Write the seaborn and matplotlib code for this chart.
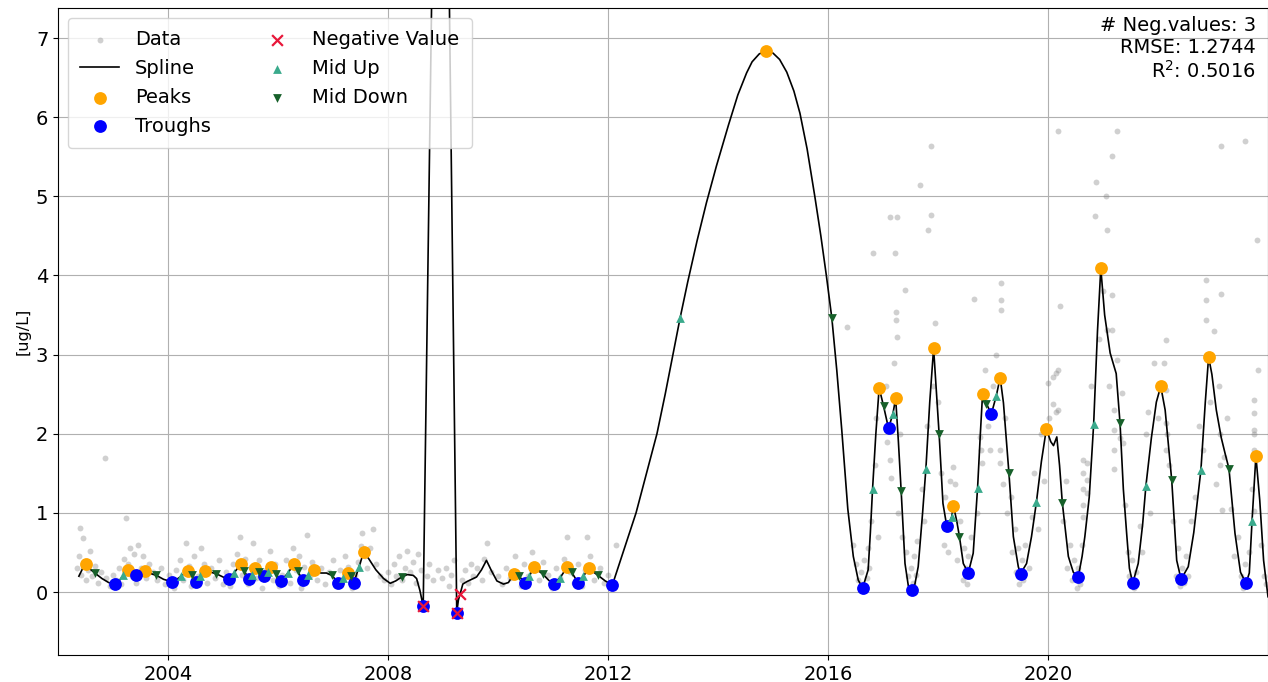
import matplotlib
matplotlib.use("Agg")
import matplotlib.pyplot as plt
import seaborn as sns
import numpy as np
import pandas as pd

# ---------------- data ----------------
# raw measurements (gray cloud)
data_x_early = [2002.35, 2002.38, 2002.40, 2002.42, 2002.45, 2002.48, 2002.50, 2002.55, 2002.58, 2002.62,
                2002.68, 2002.72, 2002.78, 2002.85, 2002.88, 2002.95, 2003.00, 2003.05, 2003.10, 2003.15,
                2003.20, 2003.24, 2003.28, 2003.30, 2003.35, 2003.38, 2003.42, 2003.45, 2003.50, 2003.55,
                2003.60, 2003.65, 2003.72, 2003.80, 2003.88, 2003.95, 2004.02, 2004.10, 2004.15, 2004.22,
                2004.28, 2004.32, 2004.38, 2004.42, 2004.48, 2004.55, 2004.60, 2004.65, 2004.70, 2004.78,
                2004.85, 2004.92, 2005.00, 2005.05, 2005.12, 2005.18, 2005.25, 2005.30, 2005.35, 2005.40,
                2005.45, 2005.50, 2005.55, 2005.60, 2005.65, 2005.70, 2005.78, 2005.85, 2005.90, 2005.95,
                2006.02, 2006.08, 2006.15, 2006.22, 2006.28, 2006.32, 2006.38, 2006.42, 2006.48, 2006.52,
                2006.58, 2006.62, 2006.70, 2006.78, 2006.85, 2006.92, 2007.00, 2007.05, 2007.12, 2007.18,
                2007.22, 2007.28, 2007.35, 2007.40, 2007.45, 2007.50, 2007.53, 2007.58, 2007.62, 2007.68,
                2007.73, 2007.78, 2007.85, 2007.92]
data_y_early = [0.30, 0.45, 0.81, 0.22, 0.68, 0.38, 0.15, 0.28, 0.52, 0.20,
                0.33, 0.12, 0.25, 1.69, 0.18, 0.08, 0.22, 0.15, 0.30, 0.10,
                0.42, 0.93, 0.35, 0.55, 0.20, 0.48, 0.12, 0.60, 0.30, 0.45,
                0.18, 0.35, 0.25, 0.15, 0.30, 0.10, 0.22, 0.05, 0.28, 0.40,
                0.15, 0.62, 0.33, 0.08, 0.45, 0.20, 0.55, 0.35, 0.12, 0.30,
                0.18, 0.40, 0.10, 0.25, 0.08, 0.35, 0.48, 0.70, 0.22, 0.42,
                0.10, 0.32, 0.62, 0.18, 0.40, 0.05, 0.28, 0.52, 0.15, 0.35,
                0.08, 0.22, 0.40, 0.12, 0.55, 0.28, 0.45, 0.05, 0.32, 0.72,
                0.20, 0.38, 0.15, 0.30, 0.10, 0.25, 0.40, 0.08, 0.28, 0.15,
                0.45, 0.32, 0.05, 0.22, 0.38, 0.58, 0.74, 0.45, 0.30, 0.55,
                0.80, 0.35, 0.20, 0.15]

data_x_mid = [2008.00, 2008.05, 2008.10, 2008.15, 2008.20, 2008.25, 2008.30, 2008.35, 2008.40, 2008.45,
              2008.50, 2008.55, 2008.60, 2008.70, 2008.75, 2008.82, 2008.90, 2008.98, 2009.05, 2009.10,
              2009.15, 2009.20, 2009.35, 2009.40, 2009.45, 2009.50, 2009.55, 2009.62, 2009.70, 2009.75,
              2009.80, 2009.88,
              2010.00, 2010.08, 2010.15, 2010.22, 2010.30, 2010.35, 2010.42, 2010.48, 2010.55, 2010.62,
              2010.68, 2010.75, 2010.82, 2010.90, 2010.98, 2011.05, 2011.12, 2011.20, 2011.26, 2011.30,
              2011.38, 2011.45, 2011.52, 2011.58, 2011.62, 2011.68, 2011.75, 2011.85, 2011.92, 2012.00,
              2012.10, 2012.15, 2016.34]
data_y_mid = [0.25, 0.10, 0.35, 0.20, 0.45, 0.15, 0.30, 0.52, 0.25, 0.38,
              0.12, 0.48, 0.28, 0.20, 0.35, 0.15, 0.28, 0.18, 0.30, 0.08,
              0.22, 0.40, 0.15, 0.28, 0.12, 0.35, 0.20, 0.30, 0.15, 0.42,
              0.62, 0.25,
              0.20, 0.10, 0.30, 0.18, 0.45, 0.25, 0.08, 0.35, 0.20, 0.50,
              0.28, 0.15, 0.38, 0.22, 0.05, 0.30, 0.18, 0.42, 0.70, 0.25,
              0.12, 0.35, 0.08, 0.28, 0.70, 0.45, 0.15, 0.30, 0.12, 0.22,
              0.05, 0.60, 3.35]

data_x_late = [2016.45, 2016.50, 2016.55, 2016.58, 2016.60, 2016.62, 2016.65, 2016.68, 2016.70, 2016.72,
               2016.75, 2016.78, 2016.82, 2016.85, 2016.88, 2016.90,
               2017.05, 2017.08, 2017.13, 2017.13, 2017.15, 2017.20, 2017.22, 2017.24, 2017.24, 2017.25,
               2017.25, 2017.27, 2017.30, 2017.35, 2017.40, 2017.42, 2017.45, 2017.48, 2017.50, 2017.55,
               2017.57, 2017.60,
               2017.62, 2017.67, 2017.70, 2017.75, 2017.80, 2017.82, 2017.87, 2017.88, 2017.90, 2017.95,
               2018.00, 2018.05, 2018.10, 2018.12,
               2018.18, 2018.22, 2018.28, 2018.31, 2018.35, 2018.40, 2018.45, 2018.48, 2018.50, 2018.52,
               2018.55, 2018.58, 2018.60, 2018.65, 2018.70,
               2018.76, 2018.78, 2018.80, 2018.85, 2018.90, 2018.95, 2019.00, 2019.05, 2019.13, 2019.13,
               2019.15, 2019.15, 2019.15, 2019.18, 2019.22, 2019.25, 2019.32, 2019.35, 2019.40, 2019.42,
               2019.45, 2019.48, 2019.52, 2019.55, 2019.58,
               2019.65, 2019.70, 2019.75, 2019.82, 2019.88, 2019.92, 2020.00, 2020.02, 2020.09, 2020.09,
               2020.15, 2020.15, 2020.19, 2020.19, 2020.19, 2020.22, 2020.28, 2020.32, 2020.35, 2020.40,
               2020.44, 2020.48, 2020.52, 2020.55, 2020.58,
               2020.62, 2020.64, 2020.64, 2020.64, 2020.64, 2020.64, 2020.70, 2020.70, 2020.70, 2020.78,
               2020.85, 2020.88, 2020.92, 2021.00, 2021.05, 2021.07, 2021.07, 2021.10, 2021.16, 2021.16,
               2021.16, 2021.20, 2021.20, 2021.20, 2021.20, 2021.25, 2021.25, 2021.30, 2021.34, 2021.36,
               2021.40, 2021.45, 2021.48, 2021.52, 2021.56, 2021.60,
               2021.67, 2021.70, 2021.79, 2021.82, 2021.85, 2021.92, 2022.00, 2022.10, 2022.15, 2022.15,
               2022.15, 2022.15, 2022.16, 2022.20, 2022.28, 2022.32, 2022.36, 2022.40, 2022.44, 2022.47,
               2022.50, 2022.55, 2022.60,
               2022.68, 2022.75, 2022.82, 2022.88, 2022.88, 2022.88, 2022.95, 2023.02, 2023.06, 2023.10,
               2023.13, 2023.13, 2023.15, 2023.15, 2023.17, 2023.20, 2023.25, 2023.33, 2023.38, 2023.45,
               2023.50, 2023.55, 2023.58, 2023.62, 2023.58,
               2023.66, 2023.70, 2023.74, 2023.74, 2023.74, 2023.74, 2023.74, 2023.75, 2023.80, 2023.82,
               2023.88, 2023.92, 2023.96]
data_y_late = [0.60, 0.35, 0.15, 0.05, 0.25, 0.10, 0.40, 0.02, 0.18, 0.55,
               0.30, 0.90, 4.28, 1.60, 2.20, 0.70,
               2.60, 1.90, 4.74, 1.67, 1.44, 2.90, 4.28, 3.54, 3.44, 3.22,
               4.74, 1.00, 2.00, 0.70, 3.82, 0.50, 0.20, 0.05, 0.30, 0.12,
               0.45, 0.22,
               0.65, 5.14, 1.30, 0.90, 2.10, 4.57, 4.76, 5.63, 2.60, 3.40,
               2.40, 1.50, 0.60, 1.20,
               0.50, 1.40, 1.58, 1.37, 0.40, 0.90, 0.15, 0.55, 0.30, 0.10,
               0.45, 0.20, 0.70, 3.70, 1.00,
               1.96, 1.80, 1.63, 2.80, 2.10, 1.80, 2.60, 3.00, 1.79, 1.63,
               3.90, 3.69, 3.57, 1.37, 2.20, 1.00, 1.20, 0.50, 0.80, 0.25,
               0.55, 0.10, 0.40, 0.15, 0.60,
               0.30, 0.95, 1.50, 0.80, 2.00, 1.40, 2.64, 2.20, 2.72, 2.38,
               2.77, 2.27, 5.82, 2.80, 2.30, 3.61, 0.90, 1.40, 0.30, 0.60,
               0.15, 0.40, 0.05, 0.30, 0.10,
               0.60, 1.67, 1.50, 1.30, 1.10, 0.95, 1.63, 1.42, 1.25, 2.60,
               4.75, 5.18, 3.20, 3.80, 5.00, 4.57, 3.31, 2.60, 5.51, 3.75,
               3.31, 2.30, 2.05, 1.80, 1.55, 5.82, 2.93, 1.95, 2.51, 1.88,
               1.10, 0.50, 0.20, 0.40, 0.05, 0.25,
               0.83, 0.50, 2.00, 2.27, 1.00, 2.90, 2.20, 2.90, 3.18, 2.55,
               2.13, 1.79, 2.00, 1.60, 0.90, 0.20, 0.55, 0.08, 0.30, 0.12,
               0.45, 0.20, 0.90,
               1.20, 2.10, 1.80, 3.94, 3.69, 3.44, 2.40, 3.30, 1.37, 2.60,
               2.00, 1.60, 5.63, 3.77, 1.04, 1.71, 2.20, 1.05, 0.45, 0.70,
               0.20, 0.05, 0.35, 0.15, 5.70,
               0.50, 1.30, 2.43, 2.26, 2.05, 2.00, 1.79, 1.03, 4.45, 2.80,
               0.60, 0.20, 0.10]

# fitted spline
spline_x = [2002.38, 2002.45, 2002.51, 2002.60, 2002.67, 2002.80, 2002.92, 2003.03, 2003.12, 2003.19,
            2003.28, 2003.35, 2003.42, 2003.50, 2003.59, 2003.70, 2003.79, 2003.92, 2004.07, 2004.18,
            2004.24, 2004.36, 2004.44, 2004.50, 2004.58, 2004.68, 2004.78, 2004.88, 2005.00, 2005.10,
            2005.20, 2005.32, 2005.38, 2005.47, 2005.53, 2005.59, 2005.66, 2005.75, 2005.81, 2005.88,
            2005.96, 2006.06, 2006.18, 2006.29, 2006.36, 2006.45, 2006.55, 2006.65, 2006.78, 2006.88,
            2006.98, 2007.09, 2007.18, 2007.27, 2007.32, 2007.38, 2007.47, 2007.56, 2007.65, 2007.78,
            2007.92, 2008.04, 2008.14, 2008.25, 2008.35, 2008.46, 2008.52, 2008.58, 2008.64, 2008.72,
            2008.80, 2008.88, 2008.95, 2009.03, 2009.11, 2009.18, 2009.25, 2009.28, 2009.31, 2009.36,
            2009.43, 2009.52, 2009.61, 2009.70, 2009.79, 2009.88, 2009.98, 2010.10, 2010.19, 2010.29,
            2010.38, 2010.49, 2010.57, 2010.65, 2010.73, 2010.81, 2010.92, 2011.01, 2011.13, 2011.26,
            2011.34, 2011.46, 2011.55, 2011.66, 2011.74, 2011.82, 2011.95, 2012.08, 2012.25, 2012.51,
            2012.70, 2012.89, 2013.04, 2013.18, 2013.31, 2013.45, 2013.62, 2013.79, 2013.97, 2014.19,
            2014.36, 2014.52, 2014.62, 2014.75, 2014.88, 2015.00, 2015.12, 2015.25, 2015.38, 2015.49,
            2015.62, 2015.76, 2015.87, 2015.97, 2016.07, 2016.16, 2016.25, 2016.36, 2016.46, 2016.55,
            2016.63, 2016.73, 2016.77, 2016.81, 2016.87,
            2016.93, 2017.01, 2017.10, 2017.18, 2017.23, 2017.28, 2017.33, 2017.40, 2017.46, 2017.52,
            2017.58, 2017.64, 2017.72, 2017.78, 2017.85, 2017.92, 2017.97, 2018.02, 2018.09, 2018.16,
            2018.22, 2018.25, 2018.28, 2018.34, 2018.39, 2018.46, 2018.55, 2018.64, 2018.72, 2018.77,
            2018.81, 2018.88, 2018.97, 2019.06, 2019.13, 2019.19, 2019.29, 2019.37, 2019.46, 2019.50,
            2019.61, 2019.70, 2019.79, 2019.88, 2019.97, 2020.05, 2020.10, 2020.16, 2020.21, 2020.26,
            2020.37, 2020.46, 2020.55, 2020.62, 2020.67, 2020.75, 2020.83, 2020.90, 2020.96, 2021.03,
            2021.13, 2021.24, 2021.31, 2021.37, 2021.43, 2021.48, 2021.54, 2021.64, 2021.72, 2021.78,
            2021.88, 2021.97, 2022.05, 2022.13, 2022.25, 2022.34, 2022.42, 2022.55, 2022.65, 2022.78,
            2022.86, 2022.92, 2022.98, 2023.06, 2023.15, 2023.22, 2023.29, 2023.40, 2023.50, 2023.60,
            2023.66, 2023.71, 2023.78, 2023.85, 2023.92, 2024.00]
spline_y = [0.20, 0.30, 0.36, 0.28, 0.24, 0.17, 0.12, 0.10, 0.15, 0.21,
            0.28, 0.24, 0.21, 0.24, 0.27, 0.23, 0.21, 0.16, 0.13, 0.17,
            0.20, 0.27, 0.22, 0.13, 0.20, 0.27, 0.25, 0.23, 0.19, 0.16,
            0.24, 0.35, 0.27, 0.17, 0.22, 0.30, 0.25, 0.20, 0.25, 0.31,
            0.23, 0.14, 0.24, 0.35, 0.26, 0.15, 0.21, 0.28, 0.24, 0.24,
            0.21, 0.12, 0.18, 0.24, 0.20, 0.12, 0.31, 0.51, 0.42, 0.28,
            0.17, 0.11, 0.14, 0.19, 0.22, 0.21, 0.17, 0.02, -0.18, 3.80,
            7.80, 11.50, 12.50, 11.50, 7.80, 3.80, -0.26, -0.10, -0.03, 0.10,
            0.13, 0.16, 0.19, 0.28, 0.40, 0.27, 0.14, 0.10, 0.12, 0.23,
            0.20, 0.12, 0.20, 0.31, 0.27, 0.23, 0.15, 0.10, 0.18, 0.32,
            0.25, 0.11, 0.20, 0.30, 0.25, 0.21, 0.14, 0.09, 0.45, 1.00,
            1.50, 2.00, 2.50, 3.00, 3.46, 3.92, 4.44, 4.92, 5.38, 5.90,
            6.28, 6.56, 6.70, 6.80, 6.84, 6.81, 6.73, 6.57, 6.33, 6.05,
            5.60, 5.00, 4.50, 4.00, 3.46, 2.80, 2.05, 1.05, 0.45, 0.15,
            0.05, 0.28, 0.75, 1.30, 2.00,
            2.58, 2.35, 2.07, 2.25, 2.45, 1.90, 1.28, 0.36, 0.08, 0.02,
            0.10, 0.32, 1.00, 1.56, 2.40, 3.08, 2.55, 2.00, 1.12, 0.83,
            0.90, 0.95, 1.09, 0.90, 0.70, 0.36, 0.24, 0.49, 1.32, 2.00,
            2.50, 2.38, 2.25, 2.48, 2.71, 2.39, 1.50, 0.70, 0.32, 0.23,
            0.36, 0.70, 1.14, 1.65, 2.06, 1.90, 1.85, 1.96, 1.60, 1.13,
            0.45, 0.25, 0.19, 0.45, 0.70, 1.20, 2.12, 3.30, 4.09, 3.50,
            3.02, 2.76, 2.13, 1.30, 0.74, 0.30, 0.11, 0.36, 0.85, 1.34,
            1.95, 2.40, 2.60, 2.30, 1.41, 0.40, 0.16, 0.32, 0.75, 1.54,
            2.40, 2.97, 2.75, 2.30, 1.95, 1.75, 1.56, 0.74, 0.25, 0.11,
            0.24, 0.90, 1.72, 1.16, 0.40, -0.06]

peaks_x = [2002.51, 2003.28, 2003.59, 2004.36, 2004.68, 2005.32, 2005.59, 2005.88, 2006.29, 2006.65,
           2007.27, 2007.56, 2010.29, 2010.65, 2011.26, 2011.66, 2014.88, 2016.93, 2017.23, 2017.92,
           2018.28, 2018.81, 2019.13, 2019.97, 2020.96, 2022.05, 2022.92, 2023.78]
peaks_y = [0.36, 0.28, 0.27, 0.27, 0.27, 0.35, 0.30, 0.31, 0.35, 0.28,
           0.24, 0.51, 0.23, 0.31, 0.32, 0.30, 6.84, 2.58, 2.45, 3.08,
           1.09, 2.50, 2.71, 2.06, 4.09, 2.60, 2.97, 1.72]

troughs_x = [2003.03, 2003.42, 2004.07, 2004.50, 2005.10, 2005.47, 2005.75, 2006.06, 2006.45, 2007.09,
             2007.38, 2008.64, 2009.25, 2010.49, 2011.01, 2011.46, 2012.08, 2016.63, 2017.10, 2017.52,
             2018.16, 2018.55, 2018.97, 2019.50, 2020.55, 2021.54, 2022.42, 2023.60]
troughs_y = [0.10, 0.21, 0.13, 0.13, 0.16, 0.17, 0.20, 0.14, 0.15, 0.12,
             0.12, -0.18, -0.26, 0.12, 0.10, 0.11, 0.09, 0.05, 2.07, 0.02,
             0.83, 0.24, 2.25, 0.23, 0.19, 0.11, 0.16, 0.11]

neg_x = [2008.64, 2009.25, 2009.31]
neg_y = [-0.18, -0.26, -0.03]

mid_up_x = [2003.19, 2004.24, 2004.58, 2005.20, 2005.53, 2005.81, 2006.18, 2006.55, 2007.18, 2007.47,
            2010.57, 2011.13, 2011.55, 2013.31, 2016.81, 2017.18, 2017.78, 2018.25, 2018.72, 2019.06,
            2019.79, 2020.83, 2021.78, 2022.78, 2023.71]
mid_up_y = [0.21, 0.20, 0.20, 0.24, 0.22, 0.25, 0.24, 0.21, 0.18, 0.31,
            0.20, 0.18, 0.20, 3.46, 1.30, 2.25, 1.56, 0.95, 1.32, 2.48,
            1.14, 2.12, 1.34, 1.54, 0.90]

mid_down_x = [2002.67, 2003.79, 2004.44, 2004.88, 2005.38, 2005.66, 2005.96, 2006.36, 2006.98, 2007.32,
              2008.25, 2010.38, 2010.81, 2011.34, 2011.82, 2016.07, 2017.01, 2017.33, 2018.02, 2018.39,
              2018.88, 2019.29, 2020.26, 2021.31, 2022.25, 2023.29]
mid_down_y = [0.24, 0.21, 0.22, 0.23, 0.27, 0.25, 0.23, 0.26, 0.21, 0.20,
              0.19, 0.20, 0.23, 0.25, 0.21, 3.46, 2.35, 1.28, 2.00, 0.70,
              2.38, 1.50, 1.13, 2.13, 1.41, 1.56]

x_ticks = [2004, 2008, 2012, 2016, 2020]
x_tick_labels = ["2004", "2008", "2012", "2016", "2020"]
y_ticks = [0, 1, 2, 3, 4, 5, 6, 7]
stats_text = "# Neg.values: 3\nRMSE: 1.2744\nR$^2$: 0.5016"

# ---------------- plot ----------------
plt.rcParams["font.family"] = ["DejaVu Sans"]

fig = plt.figure(figsize=(12.68, 6.82), dpi=100)
ax = fig.add_axes([58 / 1268, 27 / 682, 1 - 58 / 1268, 647 / 682])

data_x = data_x_early + data_x_mid + data_x_late
data_y = data_y_early + data_y_mid + data_y_late

sns.scatterplot(x=data_x, y=data_y, color="#7a7a7a", alpha=0.35, s=18, linewidth=0,
                ax=ax, label="Data", zorder=1)
sns.lineplot(x=spline_x, y=spline_y, sort=False, estimator=None, color="black",
             linewidth=1.2, ax=ax, label="Spline", zorder=2)
sns.scatterplot(x=peaks_x, y=peaks_y, color="orange", s=85, linewidth=0, marker="o",
                ax=ax, label="Peaks", zorder=3)
sns.scatterplot(x=troughs_x, y=troughs_y, color="blue", s=85, linewidth=0, marker="o",
                ax=ax, label="Troughs", zorder=3)
sns.scatterplot(x=neg_x, y=neg_y, color="#e8173a", s=60, linewidth=1.6, marker="x",
                ax=ax, label="Negative Value", zorder=5)
sns.scatterplot(x=mid_up_x, y=mid_up_y, color="#3aaa8c", s=40, linewidth=0, marker="^",
                ax=ax, label="Mid Up", zorder=4)
sns.scatterplot(x=mid_down_x, y=mid_down_y, color="#17602a", s=40, linewidth=0, marker="v",
                ax=ax, label="Mid Down", zorder=4)

ax.set_xlim(2002.0, 2024.0)
ax.set_ylim(-0.796, 7.38)
ax.set_xticks(x_ticks)
ax.set_xticklabels(x_tick_labels)
ax.set_yticks(y_ticks)
ax.tick_params(labelsize=14)
ax.grid(True, color="#b0b0b0", linewidth=0.8)
ax.set_axisbelow(True)
ax.set_ylabel("[ug/L]", fontsize=11.5)
ax.set_xlabel("")

handles, labels = ax.get_legend_handles_labels()
ax.legend(handles, labels, loc="upper left", ncol=2, fontsize=14, framealpha=0.8,
          borderpad=0.65, columnspacing=2.4, labelspacing=0.5)

ax.text(0.99, 0.988, stats_text, transform=ax.transAxes, ha="right", va="top",
        fontsize=14, linespacing=1.2)

fig.savefig("out.png", dpi=100)
